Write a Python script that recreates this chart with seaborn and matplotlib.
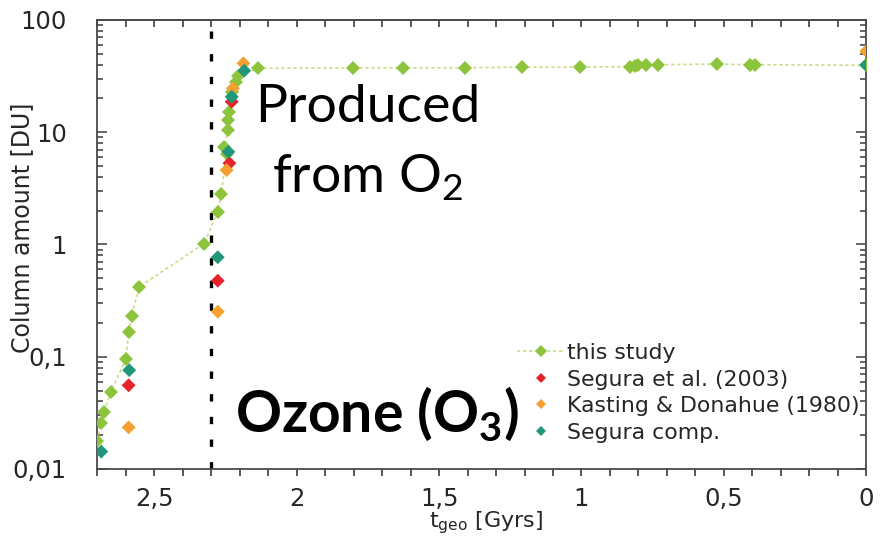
import numpy as np
import pandas as pd
import matplotlib
matplotlib.use("Agg")
import matplotlib.pyplot as plt
from matplotlib.lines import Line2D
from matplotlib.ticker import FixedLocator, FixedFormatter, MultipleLocator, LogLocator, NullFormatter
import seaborn as sns

# Ozone column (Dobson units) versus geological time before present (Gyr)
this_study_t = [2.700, 2.687, 2.676, 2.653, 2.599, 2.590, 2.579, 2.553, 2.325,
                2.277, 2.265, 2.246, 2.254, 2.246, 2.242, 2.240, 2.236, 2.228,
                2.214, 2.205, 2.135, 1.802, 1.628, 1.409, 1.208, 1.006, 0.830,
                0.813, 0.800, 0.775, 0.730, 0.525, 0.409, 0.390, 0.000]
this_study_du = [0.0179, 0.0255, 0.032, 0.049, 0.095, 0.167, 0.232, 0.42, 1.02,
                 1.96, 2.82, 4.6, 7.4, 8.9, 10.5, 12.9, 15.2, 23.0,
                 28.2, 31.4, 37.1, 37.5, 37.5, 37.5, 38.0, 38.0, 38.5,
                 39.0, 39.5, 39.5, 40.0, 40.5, 40.0, 40.0, 39.5]

segura_t = [2.590, 2.277, 2.236, 2.228]
segura_du = [0.0557, 0.476, 5.3, 18.7]

kasting_t = [2.590, 2.277, 2.246, 2.224, 2.187, 0.000]
kasting_du = [0.0235, 0.252, 4.6, 24.6, 41.1, 52.9]

segura_comp_t = [2.686, 2.588, 2.277, 2.240, 2.228, 2.184, 0.000]
segura_comp_du = [0.0143, 0.076, 0.77, 6.7, 20.7, 35.4, 39.7]

series_names = ["this study", "Segura et al. (2003)", "Kasting & Donahue (1980)", "Segura comp."]

x_ticks = [2.5, 2.0, 1.5, 1.0, 0.5, 0.0]
x_tick_labels = ["2,5", "2", "1,5", "1", "0,5", "0"]
y_ticks = [0.01, 0.1, 1, 10, 100]
y_tick_labels = ["0,01", "0,1", "1", "10", "100"]

GREEN = "#8cc43c"
GREEN_LINE = "#cbdb8a"
RED = "#e5232b"
ORANGE = "#f5a030"
TEAL = "#20977a"
AXIS = "#4a4a4a"
TEXT = "#262626"

sns.set_theme(style="white")
plt.rcParams["font.family"] = ["DejaVu Sans"]

fig = plt.figure(figsize=(8.85, 5.54), dpi=100)
ax = fig.add_axes([0.10994, 0.15343, 0.86893, 0.81047])
ax.set_yscale("log")

# era of the Great Oxidation Event
ax.axvline(2.3, color="black", lw=2.4, linestyle=(0, (2.2, 4.6)), zorder=1)

df_this = pd.DataFrame({"t": this_study_t, "du": this_study_du})
sns.lineplot(data=df_this, x="t", y="du", sort=False, ax=ax, color=GREEN_LINE,
             lw=1.2, linestyle=(0, (2.0, 1.6)), marker="D", markersize=7,
             markerfacecolor=GREEN, markeredgewidth=0, zorder=3)

others = pd.DataFrame({
    "t": segura_t + kasting_t + segura_comp_t,
    "du": segura_du + kasting_du + segura_comp_du,
    "series": [series_names[1]] * len(segura_t) + [series_names[2]] * len(kasting_t)
              + [series_names[3]] * len(segura_comp_t),
})
sns.scatterplot(data=others, x="t", y="du", hue="series", marker="D", s=50,
                linewidth=0, palette=[RED, ORANGE, TEAL], ax=ax, legend=False, zorder=4)

ax.set_xlim(2.7, 0.0)
ax.set_ylim(0.01, 100)

ax.xaxis.set_major_locator(FixedLocator(x_ticks))
ax.xaxis.set_major_formatter(FixedFormatter(x_tick_labels))
ax.xaxis.set_minor_locator(MultipleLocator(0.1))
ax.yaxis.set_major_locator(FixedLocator(y_ticks))
ax.yaxis.set_major_formatter(FixedFormatter(y_tick_labels))
ax.yaxis.set_minor_locator(LogLocator(base=10, subs=np.arange(2, 10)))
ax.yaxis.set_minor_formatter(NullFormatter())

ax.tick_params(axis="x", which="both", bottom=True, top=False, direction="out",
               color=AXIS, width=1.3, labelsize=17.5, labelcolor=TEXT, pad=8)
ax.tick_params(axis="x", which="major", length=5)
ax.tick_params(axis="x", which="minor", length=5)
ax.tick_params(axis="y", which="both", left=True, right=True, direction="in",
               color=AXIS, width=1.2, labelsize=17.5, labelcolor=TEXT, pad=22)
ax.tick_params(axis="y", which="major", length=7)
ax.tick_params(axis="y", which="minor", length=4)

top = ax.secondary_xaxis("top")
top.xaxis.set_major_locator(MultipleLocator(0.1))
top.tick_params(axis="x", direction="in", length=5, width=1.3, color=AXIS, labeltop=False)
top.spines["top"].set_color(AXIS)
top.spines["top"].set_linewidth(1.3)

for sp in ax.spines.values():
    sp.set_color(AXIS)
    sp.set_linewidth(1.3)

ax.set_xlabel("")
ax.set_ylabel("")
fig.text(486 / 885, 1 - 523 / 554, r"t$_{\mathregular{geo}}$ [Gyrs]", ha="center", va="center",
         fontsize=16, color=TEXT)
fig.text(22 / 885, 1 - 228 / 554, "Column amount [DU]", rotation=90, ha="center",
         va="center", fontsize=17, color=TEXT)

# legend
handles = [
    Line2D([], [], color=GREEN_LINE, lw=1.2, linestyle=(0, (2.0, 1.6)), marker="D",
           markersize=6, markerfacecolor=GREEN, markeredgewidth=0),
    Line2D([], [], lw=0, marker="D", markersize=5, color=RED, markeredgewidth=0),
    Line2D([], [], lw=0, marker="D", markersize=5, color=ORANGE, markeredgewidth=0),
    Line2D([], [], lw=0, marker="D", markersize=5, color=TEAL, markeredgewidth=0),
]
leg = ax.legend(handles, series_names, loc="upper left",
                bbox_to_anchor=((517 - 97.3) / 769, (469 - 343) / 449),
                frameon=False, fontsize=15.8, handlelength=2.15, handletextpad=0.12,
                labelspacing=0.3, borderpad=0, borderaxespad=0)
for t in leg.get_texts():
    t.set_color(TEXT)

ax.text(0.352, (469 - 122) / 449, "Produced", transform=ax.transAxes, ha="center",
        va="baseline", fontsize=38.5, family="Lato", color="black")
ax.text(0.352, (469 - 192) / 449, r"from O$_\mathregular{2}$", transform=ax.transAxes,
        ha="center", va="baseline", fontsize=38.5, family="Lato", color="black")
ax.text(0.3643, (469 - 432) / 449, r"Ozone (O$_\mathregular{3}$)", transform=ax.transAxes,
        ha="center", va="baseline", fontsize=41, family="Lato", fontweight="bold",
        color="black")

fig.savefig("out.png", dpi=100)
